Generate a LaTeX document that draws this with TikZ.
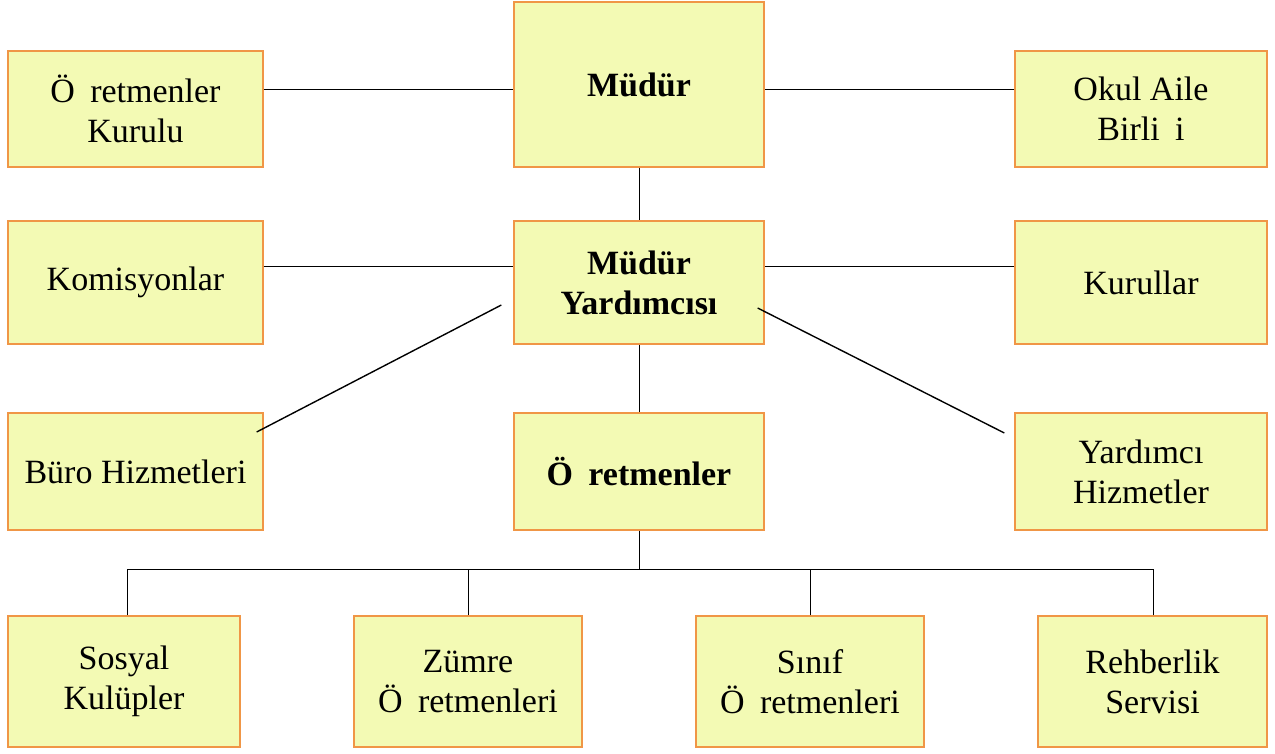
\documentclass[tikz,border=0pt]{standalone}
\usepackage{fontspec}
\setmainfont{Liberation Serif}
\definecolor{boxfill}{RGB}{243,250,180}
\definecolor{boxline}{RGB}{240,150,70}
\begin{document}
\begin{tikzpicture}[x=1pt,y=-1pt,
  box/.style={draw=boxline,fill=boxfill,line width=1.3pt,inner sep=0pt,align=center,
    font=\fontsize{34}{40}\selectfont},
  conn/.style={draw=black,line width=0.9pt},
  diag/.style={draw=black,line width=1.4pt}]
\useasboundingbox (0,0) rectangle (1275,753);
\fill[white] (0,0) rectangle (1275,753);
% row 1
\node[box,minimum width=255,minimum height=116] (kurulu) at (135.5,109) {Ö\hspace{0.45em}retmenler\\Kurulu};
\node[box,minimum width=250,minimum height=165] (mudur) at (639,84.5) {\bfseries Müdür};
\node[box,minimum width=252,minimum height=116] (okul) at (1141,109) {Okul Aile\\Birli\hspace{0.45em}i};
% row 2
\node[box,minimum width=255,minimum height=123] (komis) at (135.5,282.5) {Komisyonlar};
\node[box,minimum width=250,minimum height=123] (my) at (639,282.5) {\bfseries Müdür\\\bfseries Yardımcısı};
\node[box,minimum width=252,minimum height=123] (kurullar) at (1141,282.5) {Kurullar};
% row 3
\node[box,minimum width=255,minimum height=117] (buro) at (135.5,471.5) {Büro Hizmetleri};
\node[box,minimum width=250,minimum height=117] (ogr) at (639,471.5) {\bfseries Ö\hspace{0.45em}retmenler};
\node[box,minimum width=252,minimum height=117] (yard) at (1141,471.5) {Yardımcı\\Hizmetler};
% row 4
\node[box,minimum width=232,minimum height=131] (sosyal) at (124,681.5) {Sosyal\\Kulüpler};
\node[box,minimum width=228,minimum height=131] (zumre) at (468,681.5) {Zümre\\Ö\hspace{0.45em}retmenleri};
\node[box,minimum width=228,minimum height=131] (sinif) at (810,681.5) {Sınıf\\Ö\hspace{0.45em}retmenleri};
\node[box,minimum width=229,minimum height=131] (rehber) at (1152.5,681.5) {Rehberlik\\Servisi};
% connectors
\draw[conn] ([yshift=20pt]kurulu.east) -- ([yshift=20pt]kurulu.east -| mudur.west);
\draw[conn] ([yshift=20pt]okul.west) -- ([yshift=20pt]okul.west -| mudur.east);
\draw[conn] (mudur.south) -- (my.north);
\draw[conn] ([yshift=16.5pt]komis.east) -- ([yshift=16.5pt]komis.east -| my.west);
\draw[conn] ([yshift=16.5pt]kurullar.west) -- ([yshift=16.5pt]kurullar.west -| my.east);
\draw[diag] ([shift={(-12,22.5)}]my.west) -- ([shift={(-7,-39.5)}]buro.east);
\draw[diag] ([shift={(-7,25.5)}]my.east) -- ([shift={(-10,-38.5)}]yard.west);
\draw[conn] (my.south) -- (ogr.north);
\coordinate (bus) at (639,569);
\draw[conn] (ogr.south) -- (bus);
\draw[conn] ([xshift=3pt]sosyal.north |- bus) -- ([xshift=0.5pt]rehber.north |- bus);
\draw[conn] ([xshift=3pt]sosyal.north) -- ([xshift=3pt]sosyal.north |- bus);
\draw[conn] (zumre.north) -- (zumre.north |- bus);
\draw[conn] (sinif.north) -- (sinif.north |- bus);
\draw[conn] ([xshift=0.5pt]rehber.north) -- ([xshift=0.5pt]rehber.north |- bus);
\end{tikzpicture}
\end{document}
